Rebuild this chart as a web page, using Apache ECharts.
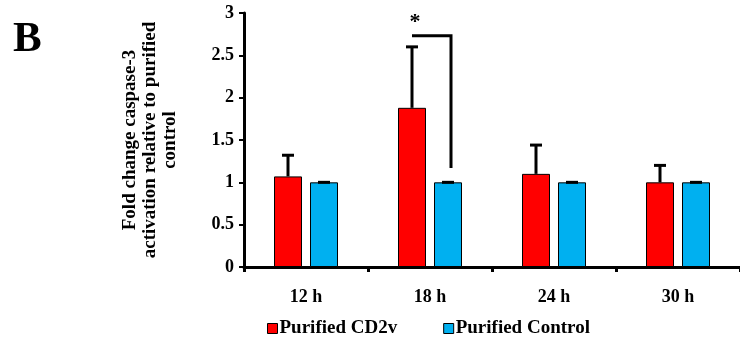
<!DOCTYPE html>
<html>
<head>
<meta charset="utf-8">
<script src="https://cdn.jsdelivr.net/npm/echarts@6/dist/echarts.min.js"></script>
<style>
html,body{margin:0;padding:0;background:#fff;}
#chart{width:740px;height:354px;}
</style>
</head>
<body>
<div id="chart"></div>
<script>
var categories = ['12 h', '18 h', '24 h', '30 h'];
var cd2vValues = [1.07, 1.88, 1.10, 1.00];
var cd2vErrors = [0.25, 0.72, 0.34, 0.20];
var controlValues = [1.00, 1.00, 1.00, 1.00];
var controlErrors = [0, 0, 0, 0];
var yTicks = [0, 0.5, 1, 1.5, 2, 2.5, 3];
// significance bracket: [categoryIndex, topValue, bottomValue]
var bracket = [[1, 2.73, 1.17]];
var starLabel = '*';

var FONT = '"Liberation Serif", "Times New Roman", serif';
var BAR_W = 28, GAP = 8;
var OFF = (BAR_W + GAP) / 2;

function errItem(offsetSign) {
  return function (params, api) {
    var i = api.value(0);
    var v = api.value(1);
    var e = api.value(2);
    var base = api.coord([i, v]);
    var top = api.coord([i, v + e]);
    var x = base[0] + offsetSign * OFF;
    var cap = 6;
    return {
      type: 'group',
      children: [
        {type: 'line', shape: {x1: x, y1: base[1], x2: x, y2: top[1]}, style: {stroke: '#000', lineWidth: 3}},
        {type: 'line', shape: {x1: x - cap, y1: top[1], x2: x + cap, y2: top[1]}, style: {stroke: '#000', lineWidth: 3}}
      ]
    };
  };
}

var chart = echarts.init(document.getElementById('chart'), null, {renderer: 'canvas'});
chart.setOption({
  animation: false,
  backgroundColor: '#fff',
  textStyle: {fontFamily: FONT},
  graphic: [{
    type: 'text', left: 13, top: 18,
    style: {text: 'B', font: 'bold 43px ' + FONT, fill: '#000'}
  }],
  legend: {
    bottom: 11,
    left: 262,
    itemWidth: 10, itemHeight: 10, itemGap: 46,
    textStyle: {fontFamily: FONT, fontWeight: 'bold', fontSize: 19, color: '#000', padding: [0, 0, 0, -3]},
    data: [
      {name: 'Purified CD2v', icon: 'rect', itemStyle: {color: '#ff0000', borderColor: '#000', borderWidth: 1}},
      {name: 'Purified Control', icon: 'rect', itemStyle: {color: '#00b0f0', borderColor: '#000', borderWidth: 1}}
    ]
  },
  grid: {left: 244, right: -2, top: 13, bottom: 87, containLabel: false},
  xAxis: {
    type: 'category',
    data: categories,
    axisLine: {lineStyle: {color: '#000', width: 3}},
    axisTick: {show: true, length: 5, lineStyle: {color: '#000', width: 3}},
    axisLabel: {color: '#000', fontFamily: FONT, fontWeight: 'bold', fontSize: 18, margin: 21}
  },
  yAxis: {
    type: 'value',
    min: 0, max: 3, interval: 0.5,
    name: 'Fold change caspase-3\nactivation relative to purified\ncontrol',
    nameLocation: 'middle',
    nameGap: 64,
    nameTextStyle: {color: '#000', fontFamily: FONT, fontWeight: 'bold', fontSize: 19, lineHeight: 20, align: 'center'},
    axisLine: {show: true, lineStyle: {color: '#000', width: 3}},
    axisTick: {show: true, length: 5, lineStyle: {color: '#000', width: 2}},
    splitLine: {show: false},
    axisLabel: {color: '#000', fontFamily: FONT, fontWeight: 'bold', fontSize: 18, margin: 10,
      formatter: function (v) { return yTicks.indexOf(v) >= 0 ? String(v) : ''; }}
  },
  series: [
    {
      name: 'Purified CD2v', type: 'bar', data: cd2vValues,
      barWidth: BAR_W, barGap: (GAP / BAR_W * 100) + '%',
      itemStyle: {color: '#ff0000', borderColor: '#000', borderWidth: 1}
    },
    {
      name: 'Purified Control', type: 'bar', data: controlValues,
      barWidth: BAR_W,
      itemStyle: {color: '#00b0f0', borderColor: '#000', borderWidth: 1}
    },
    {
      type: 'custom', name: 'errCD2v', silent: true, z: 5,
      renderItem: errItem(-1),
      data: cd2vValues.map(function (v, i) { return [i, v, cd2vErrors[i]]; })
    },
    {
      type: 'custom', name: 'errControl', silent: true, z: 5,
      renderItem: errItem(1),
      data: controlValues.map(function (v, i) { return [i, v, controlErrors[i]]; })
    },
    {
      type: 'custom', name: 'bracket', silent: true, z: 6,
      renderItem: function (params, api) {
        var i = api.value(0);
        var t = api.coord([i, api.value(1)]);
        var b = api.coord([i, api.value(2)]);
        var xl = t[0] - OFF;
        var xr = t[0] + OFF + 3;
        return {
          type: 'group',
          children: [
            {type: 'polyline', shape: {points: [[xl, t[1]], [xr, t[1]], [xr, b[1]]]}, style: {stroke: '#000', lineWidth: 3, fill: null}},
            {type: 'text', x: xl + 3, y: t[1] - 3, style: {text: starLabel, font: 'bold 22px ' + FONT, fill: '#000', align: 'center', verticalAlign: 'bottom'}}
          ]
        };
      },
      data: bracket
    }
  ]
});
</script>
</body>
</html>
